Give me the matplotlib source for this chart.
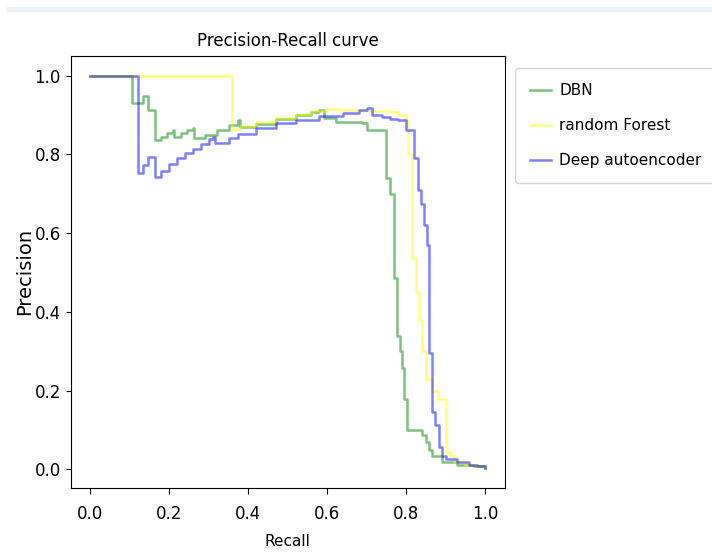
import matplotlib
matplotlib.use("Agg")
import matplotlib.pyplot as plt
from matplotlib.patches import Rectangle

plt.rcParams["font.family"] = ["DejaVu Sans"]

# recall / precision pairs (drawn as post steps)
dbn_recall = [0.0, 0.105, 0.134, 0.147, 0.164, 0.18, 0.195, 0.21, 0.212, 0.23,
              0.245, 0.26, 0.262, 0.29, 0.32, 0.35, 0.374, 0.38, 0.42, 0.47,
              0.52, 0.56, 0.58, 0.593, 0.622, 0.689, 0.70, 0.75, 0.758, 0.77,
              0.778, 0.785, 0.79, 0.795, 0.802, 0.84, 0.85, 0.858, 0.865, 0.89,
              0.93, 0.97, 1.0]
dbn_precision = [1.0, 0.93, 0.947, 0.913, 0.836, 0.845, 0.853, 0.862, 0.845, 0.853,
                 0.862, 0.867, 0.842, 0.85, 0.862, 0.875, 0.888, 0.87, 0.878, 0.889,
                 0.9, 0.908, 0.913, 0.893, 0.883, 0.88, 0.862, 0.74, 0.70, 0.487,
                 0.34, 0.30, 0.257, 0.18, 0.10, 0.088, 0.07, 0.05, 0.033, 0.02,
                 0.012, 0.008, 0.005]

rf_recall = [0.0, 0.358, 0.38, 0.42, 0.47, 0.52, 0.56, 0.60, 0.63, 0.70,
             0.765, 0.78, 0.80, 0.805, 0.815, 0.825, 0.832, 0.84, 0.85, 0.866,
             0.88, 0.90, 0.91, 0.92, 0.95, 0.98, 1.0]
rf_precision = [1.0, 0.865, 0.872, 0.882, 0.893, 0.902, 0.909, 0.915, 0.912, 0.91,
                0.907, 0.90, 0.885, 0.80, 0.537, 0.45, 0.38, 0.30, 0.23, 0.20,
                0.18, 0.045, 0.035, 0.02, 0.012, 0.007, 0.004]

dae_recall = [0.0, 0.121, 0.134, 0.147, 0.164, 0.18, 0.20, 0.22, 0.24, 0.26,
              0.28, 0.30, 0.31, 0.315, 0.35, 0.374, 0.42, 0.47, 0.52, 0.58,
              0.64, 0.68, 0.70, 0.714, 0.74, 0.76, 0.78, 0.80, 0.82, 0.829,
              0.837, 0.845, 0.853, 0.858, 0.866, 0.874, 0.882, 0.89, 0.90, 0.93,
              0.96, 0.98, 1.0]
dae_precision = [1.0, 0.752, 0.772, 0.793, 0.742, 0.758, 0.775, 0.79, 0.803, 0.814,
                 0.826, 0.838, 0.845, 0.83, 0.842, 0.852, 0.866, 0.879, 0.888, 0.897,
                 0.906, 0.912, 0.918, 0.90, 0.895, 0.89, 0.886, 0.862, 0.79, 0.71,
                 0.675, 0.62, 0.57, 0.295, 0.147, 0.113, 0.058, 0.035, 0.027, 0.018,
                 0.012, 0.008, 0.005]

fig = plt.figure(figsize=(7.12, 5.54), dpi=100)
fig.subplots_adjust(left=0.0993, right=0.709, top=0.899, bottom=0.120)
ax = fig.add_subplot(111)

# faint strip across the top of the screenshot
fig.patches.append(Rectangle((7 / 712, 1 - 11 / 554), 1, 4 / 554,
                             transform=fig.transFigure, color="#edf2f7", zorder=0))

ax.step(dbn_recall, dbn_precision, where="post", color="g", alpha=0.5, lw=1.8, label="DBN")
ax.step(rf_recall, rf_precision, where="post", color="yellow", alpha=0.5, lw=1.8,
        label="random Forest")
ax.step(dae_recall, dae_precision, where="post", color="b", alpha=0.5, lw=1.8,
        label="Deep autoencoder")

ax.set_xticks([0.0, 0.2, 0.4, 0.6, 0.8, 1.0])
ax.set_yticks([0.0, 0.2, 0.4, 0.6, 0.8, 1.0])
ax.tick_params(axis="x", labelsize=12, pad=8, length=4.5)
ax.tick_params(axis="y", labelsize=12, pad=3.5, length=3.5)
ax.set_xlabel("Recall", fontsize=11, labelpad=8)
ax.set_ylabel("Precision", fontsize=14, labelpad=0)
ax.set_title("Precision-Recall curve", fontsize=12, pad=7)

ax.legend(loc="upper left", bbox_to_anchor=(1.023, 0.972), borderaxespad=0,
          fontsize=11, handlelength=1.4, handletextpad=0.5, borderpad=1.0,
          labelspacing=1.3)

fig.savefig("out.png", dpi=100)
